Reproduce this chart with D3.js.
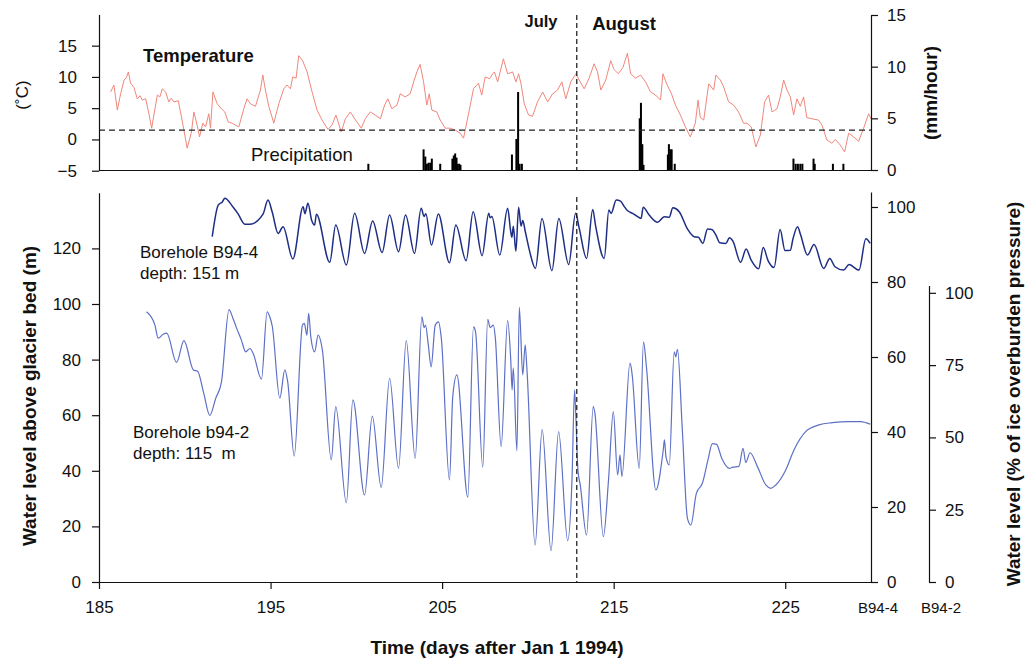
<!DOCTYPE html>
<html>
<head>
<meta charset="utf-8">
<script src="https://cdn.jsdelivr.net/npm/d3@7"></script>
<style>
body { margin: 0; background: #fff; }
text { font-family: 'Liberation Sans', Arial, sans-serif; }
</style>
</head>
<body>
<div id="chart"></div>
<script>
// ticks
const xTicks = [185, 195, 205, 215, 225]
const tempTicks = [-5, 0, 5, 10, 15]
const precipTicks = [0, 5, 10, 15]
const levelTicks = [0, 20, 40, 60, 80, 100, 120]
const pct4Ticks = [0, 20, 40, 60, 80, 100]
const pct2Ticks = [0, 25, 50, 75, 100]
const freezeLine = 1.5
const augustStart = 212.85

// air temperature, [day, degC]
const temperature = [
    [185.68, 7.6], [185.87, 8.7], [186.07, 4.7], [186.26, 7.3], [186.46, 9.5], [186.6, 9.9], [186.71, 10.8], [186.84, 9.0],
    [187.04, 8.3], [187.23, 6.5], [187.4, 7.0], [187.52, 6.3], [187.72, 6.5], [187.91, 4.1], [188.07, 1.8], [188.2, 3.9],
    [188.4, 7.1], [188.55, 6.8], [188.69, 8.1], [188.88, 7.6], [189.07, 6.0], [189.2, 6.6], [189.37, 6.0], [189.62, 6.2], [189.75, 4.4],
    [189.95, 1.5], [190.14, -1.4], [190.39, 1.2], [190.53, 4.4], [190.72, 2.3], [190.86, 0.4], [191.05, 2.6],
    [191.21, 2.0], [191.4, 4.1], [191.5, 1.8], [191.64, 7.6], [191.89, 5.7], [192.14, 4.9], [192.33, 4.4],
    [192.53, 2.8], [192.76, 2.6], [193.15, 2.0], [193.44, 4.9], [193.63, 6.5], [193.83, 5.7], [194.12, 5.3],
    [194.41, 7.9], [194.55, 10.3], [194.7, 7.9], [194.9, 5.3], [195.19, 2.6], [195.48, 5.7], [195.77, 8.1],
    [195.96, 8.7], [196.16, 8.1], [196.29, 10.0], [196.49, 9.8], [196.64, 13.4], [196.87, 12.6], [197.13, 10.8],
    [197.42, 7.6], [197.71, 4.7], [198.0, 3.1], [198.35, 1.6], [198.58, 2.3], [198.81, 3.9], [199.12, 1.2],
    [199.36, 3.3], [199.65, 4.4], [199.9, 3.3], [200.29, 1.8], [200.52, 3.3], [200.81, 4.4], [201.1, 3.9],
    [201.4, 3.3], [201.65, 5.5], [201.84, 6.5], [202.07, 4.9], [202.37, 5.5], [202.56, 7.3], [202.85, 6.8],
    [203.14, 7.3], [203.34, 9.2], [203.53, 10.8], [203.72, 12.0], [203.92, 9.2], [204.11, 5.5], [204.25, 7.3],
    [204.4, 4.7], [204.69, 4.4], [204.89, 3.1], [205.18, 1.8], [205.47, 1.8], [205.76, 1.5], [206.05, 1.0],
    [206.25, 0.2], [206.54, 4.1], [206.83, 8.1], [207.12, 9.0], [207.31, 7.1], [207.51, 10.0], [207.76, 9.7],
    [207.95, 10.5], [208.05, 10.8], [208.24, 9.2], [208.57, 12.9], [208.82, 10.5], [209.11, 10.8], [209.3, 9.2],
    [209.46, 10.5], [209.6, 8.9], [209.79, 5.7], [210.04, 3.9], [210.27, 3.7], [210.56, 6.0], [210.86, 7.6],
    [211.15, 6.0], [211.44, 7.3], [211.73, 7.9], [211.98, 9.2], [212.21, 6.5], [212.5, 9.2], [212.8, 10.5],
    [212.99, 9.5], [213.28, 8.1], [213.57, 9.8], [213.86, 12.1], [214.06, 10.8], [214.25, 7.9], [214.54, 9.5],
    [214.83, 12.6], [215.02, 11.2], [215.27, 10.5], [215.54, 11.5], [215.8, 13.8], [215.99, 10.5], [216.28, 9.8],
    [216.57, 10.3], [216.86, 9.2], [217.15, 7.6], [217.44, 7.1], [217.73, 6.3], [217.87, 10.5], [218.12, 8.7],
    [218.37, 7.3], [218.6, 5.5], [218.89, 3.9], [219.18, 2.0], [219.47, 0.4], [219.76, 2.6], [219.92, 6.3],
    [220.05, 3.5], [220.25, 3.1], [220.54, 8.9], [220.83, 7.9], [220.96, 10.3], [221.22, 9.5], [221.41, 8.4],
    [221.7, 6.0], [221.99, 5.5], [222.28, 4.4], [222.57, 2.6], [222.77, 2.6], [223.02, 2.0], [223.29, -1.2],
    [223.55, 0.7], [223.8, 6.0], [224.03, 7.1], [224.23, 4.4], [224.52, 4.9], [224.71, 6.8], [224.91, 9.5],
    [225.1, 7.9], [225.3, 6.8], [225.49, 3.9], [225.68, 6.5], [225.88, 5.3], [226.07, 6.8], [226.26, 3.5],
    [226.56, 3.3], [226.94, 3.1], [227.14, 2.3], [227.43, -0.1], [227.72, -0.6], [227.92, 0.0], [228.21, -0.9],
    [228.46, -2.0], [228.7, 1.0], [228.99, 0.4], [229.28, -0.3], [229.57, 1.8], [229.86, 4.1], [230.0, 3.3]
]

// precipitation, [day, mm/hour]
const precipitation = [
    [200.7, 0.6], [203.92, 2.0], [204.02, 1.3], [204.11, 0.6], [204.21, 0.7], [204.31, 0.7], [204.4, 1.1],
    [204.89, 0.6], [205.6, 1.1], [205.68, 1.4], [205.76, 1.6], [205.84, 1.2], [205.91, 0.6], [206.0, 0.6],
    [206.07, 0.5], [209.07, 1.5], [209.33, 3.0], [209.43, 7.55], [209.52, 0.6], [209.65, 0.6], [216.52, 5.0],
    [216.59, 6.5], [216.67, 2.5], [216.74, 0.5], [218.16, 1.5], [218.22, 2.5], [218.31, 2.0], [218.38, 2.0],
    [218.56, 0.6], [225.48, 1.1], [225.61, 0.6], [225.74, 0.6], [225.88, 0.6], [226.0, 0.6], [226.65, 1.1],
    [226.72, 0.6], [227.78, 0.6], [228.39, 0.6]
]

// borehole B94-4, [day, m above bed]
const boreholeB944 = [
    [191.6, 124.2], [191.95, 135.6], [192.2, 136.8], [192.33, 138.0], [192.8, 135.0], [193.1, 132.5], [193.5, 128.7],
    [193.8, 128.7], [194.56, 132.3], [194.85, 137.4], [195.1, 133.0], [195.44, 125.4], [195.73, 127.8], [196.3, 116.2],
    [196.9, 135.0], [197.0, 132.5], [197.18, 136.2], [197.4, 130.0], [197.57, 128.4], [197.67, 132.3], [198.45, 115.0],
    [198.8, 128.4], [199.42, 114.0], [199.9, 132.6], [200.48, 118.2], [200.95, 129.9], [201.5, 118.5], [201.94, 132.0],
    [202.46, 118.8], [202.87, 132.0], [203.39, 118.2], [203.78, 134.4], [203.95, 131.5], [204.05, 132.5], [204.38, 121.2],
    [204.78, 132.4], [205.43, 114.8], [205.8, 128.4], [206.4, 115.6], [206.81, 133.2], [207.33, 117.4], [207.72, 132.6],
    [207.8, 131.0], [207.9, 131.5], [208.36, 117.6], [208.82, 134.4], [209.0, 126.0], [209.07, 124.0], [209.15, 128.0],
    [209.3, 119.0], [209.46, 134.8], [209.6, 128.0], [209.7, 130.0], [209.85, 126.0], [210.1, 119.0], [210.44, 112.8],
    [210.82, 130.8], [211.4, 112.0], [211.8, 130.8], [212.38, 114.2], [212.78, 132.6], [213.0, 127.0], [213.42, 116.4],
    [213.78, 134.0], [213.95, 128.0], [214.45, 116.4], [214.72, 133.8], [214.85, 132.6], [215.15, 137.4], [215.4, 137.0],
    [215.6, 135.2], [215.8, 133.6], [216.1, 132.6], [216.35, 131.6], [216.6, 130.8], [216.72, 134.8], [217.07, 132.0],
    [217.56, 129.4], [217.95, 131.4], [218.24, 131.2], [218.45, 134.6], [218.82, 133.2], [219.3, 127.0], [219.69, 124.2],
    [219.94, 124.0], [220.2, 121.8], [220.47, 127.0], [220.72, 126.8], [220.96, 124.8], [221.19, 122.0], [221.54, 121.8],
    [221.75, 123.8], [221.95, 122.6], [222.4, 115.0], [222.72, 119.8], [223.0, 116.0], [223.45, 112.7], [223.72, 120.3],
    [224.0, 115.6], [224.35, 113.1], [224.7, 126.8], [224.99, 119.2], [225.3, 119.3], [225.45, 123.4], [225.72, 127.8],
    [225.9, 124.8], [226.3, 117.6], [226.68, 121.4], [227.24, 112.8], [227.6, 116.4], [227.9, 113.4], [228.4, 112.2],
    [228.72, 114.2], [229.3, 112.2], [229.7, 123.5], [229.95, 121.8]
]

// borehole b94-2, [day, m above bed]
const boreholeB942 = [
    [187.77, 97.2], [188.26, 92.4], [188.45, 87.7], [188.74, 89.1], [188.95, 89.5], [189.52, 79.0], [189.95, 86.8],
    [190.5, 76.3], [190.75, 75.8], [191.1, 68.0], [191.46, 59.9], [191.8, 66.0], [192.14, 72.0], [192.58, 98.0],
    [192.8, 95.0], [193.01, 91.5], [193.3, 87.0], [193.55, 82.8], [193.8, 84.0], [194.0, 82.0], [194.47, 73.0],
    [194.8, 97.2], [194.95, 95.5], [195.1, 92.0], [195.54, 66.1], [195.83, 76.3], [196.0, 72.0], [196.38, 45.3],
    [196.86, 92.4], [196.97, 93.0], [197.12, 88.8], [197.22, 96.6], [197.35, 88.0], [197.57, 82.8], [197.77, 88.8],
    [198.02, 83.5], [198.54, 43.9], [198.8, 63.1], [199.42, 28.5], [199.8, 65.5], [200.48, 31.3], [200.93, 59.7],
    [201.45, 34.0], [201.94, 73.3], [202.46, 40.9], [202.91, 86.8], [203.43, 44.5], [203.82, 95.4], [203.95, 91.5],
    [204.03, 92.4], [204.2, 85.0], [204.36, 77.4], [204.6, 92.4], [204.79, 93.6], [204.95, 88.0], [205.43, 36.7],
    [205.62, 66.7], [205.86, 74.5], [206.5, 30.5], [206.83, 91.8], [206.95, 90.0], [207.37, 41.3], [207.66, 94.5],
    [207.8, 91.5], [207.99, 92.4], [208.1, 88.0], [208.44, 48.7], [208.82, 94.0], [209.0, 80.0], [209.08, 69.1],
    [209.15, 77.0], [209.36, 47.2], [209.5, 98.8], [209.7, 74.5], [209.84, 85.3], [209.95, 76.0], [210.42, 13.3],
    [210.83, 54.9], [211.35, 11.3], [211.79, 54.1], [212.32, 14.9], [212.57, 36.7], [212.72, 69.1], [212.78, 62.0],
    [212.92, 40.0], [213.05, 35.0], [213.42, 16.9], [213.81, 63.1], [213.9, 61.0], [214.4, 16.3], [214.7, 36.7],
    [214.98, 61.3], [215.23, 38.5], [215.37, 45.7], [215.48, 37.9], [215.95, 78.7], [216.05, 76.0], [216.1, 73.3],
    [216.49, 40.9], [216.74, 86.4], [216.91, 77.4], [217.46, 33.1], [217.89, 47.5], [217.96, 51.1], [218.05, 45.0],
    [218.24, 42.1], [218.53, 82.8], [218.62, 81.0], [218.72, 83.7], [219.0, 55.0], [219.3, 22.9], [219.5, 20.5],
    [219.82, 31.9], [220.17, 35.5], [220.5, 44.0], [220.75, 49.8], [221.0, 49.5], [221.3, 44.5], [221.73, 40.9],
    [221.95, 41.3], [222.3, 41.6], [222.54, 48.1], [222.7, 43.0], [222.95, 46.5], [223.38, 41.5], [223.87, 34.9],
    [224.16, 33.7], [224.45, 34.9], [225.03, 40.3], [225.51, 47.5], [226.19, 54.1], [226.97, 56.5], [227.74, 57.3],
    [228.71, 57.7], [229.4, 57.7], [229.95, 56.8]
]

const width = 1031
const height = 659
const font = "'Liberation Sans', Arial, sans-serif"

const svg = d3.select('#chart').
    append('svg').
    attr('width', width).
    attr('height', height)

// scales
const x = d3.scaleLinear().domain([185, 230]).range([99, 871])
const yTemp = d3.scaleLinear().domain([-5, 20]).range([170.7, 14.4])
const yPrecip = d3.scaleLinear().domain([0, 15]).range([170, 15])
const yLevel = d3.scaleLinear().domain([0, 140]).range([582, 192.8])
const yPct4 = d3.scaleLinear().domain([0, 104]).range([582, 192])
const yPct2 = d3.scaleLinear().domain([0, 102.5]).range([582, 285.6])

function styleAxis (g, size) {
    g.attr('font-family', font).attr('font-size', size)
    g.selectAll('path, line').attr('stroke', '#111').attr('stroke-width', 1.2)
    g.selectAll('text').attr('fill', '#111')
    return g
}

// ---- top panel ----
// temperature line
svg.append('path').
    datum(temperature).
    attr('d', d3.line().x(d => x(d[0])).y(d => yTemp(d[1]))).
    attr('fill', 'none').
    attr('stroke', '#f0877c').
    attr('stroke-width', 1)

// precipitation bars
svg.selectAll('.bar').
    data(precipitation).
    enter().
    append('rect').
    attr('x', d => x(d[0]) - 1).
    attr('y', d => yPrecip(d[1])).
    attr('width', 2).
    attr('height', d => yPrecip(0) - yPrecip(d[1])).
    attr('fill', '#000')

// freezing reference
svg.append('line').
    attr('x1', x(185)).attr('x2', x(230)).
    attr('y1', yTemp(freezeLine)).attr('y2', yTemp(freezeLine)).
    attr('stroke', '#222').attr('stroke-width', 1.2).attr('stroke-dasharray', '6,4')

// left temperature axis
styleAxis(svg.append('g').
    attr('transform', `translate(${x(185)}, 0)`).
    call(d3.axisLeft(yTemp).tickValues(tempTicks).tickSize(7).tickSizeOuter(0).tickPadding(15)), 17)

// right precipitation axis
styleAxis(svg.append('g').
    attr('transform', `translate(${x(230)}, 0)`).
    call(d3.axisRight(yPrecip).tickValues(precipTicks).tickSize(7).tickSizeOuter(0).tickPadding(9)), 17)

// bottom line of top panel
svg.append('line').
    attr('x1', x(185)).attr('x2', x(230)).
    attr('y1', 170.5).attr('y2', 170.5).
    attr('stroke', '#111').attr('stroke-width', 1.2)

// ---- bottom panel ----
svg.append('path').
    datum(boreholeB942).
    attr('d', d3.line().curve(d3.curveMonotoneX).x(d => x(d[0])).y(d => yLevel(d[1]))).
    attr('fill', 'none').
    attr('stroke', '#5d70c6').
    attr('stroke-width', 1.2)

svg.append('path').
    datum(boreholeB944).
    attr('d', d3.line().curve(d3.curveMonotoneX).x(d => x(d[0])).y(d => yLevel(d[1]))).
    attr('fill', 'none').
    attr('stroke', '#1e2d85').
    attr('stroke-width', 1.5)

// x axis
styleAxis(svg.append('g').
    attr('transform', `translate(0, ${yLevel(0)})`).
    call(d3.axisBottom(x).tickValues(xTicks).tickFormat(d3.format('d')).tickSize(7).tickSizeOuter(0).tickPadding(12)), 17)

// left level axis
styleAxis(svg.append('g').
    attr('transform', `translate(${x(185)}, 0)`).
    call(d3.axisLeft(yLevel).tickValues(levelTicks).tickSize(7).tickSizeOuter(0).tickPadding(11)), 17)

// right % axes
styleAxis(svg.append('g').
    attr('transform', `translate(${x(230)}, 0)`).
    call(d3.axisRight(yPct4).tickValues(pct4Ticks).tickSize(7).tickSizeOuter(0).tickPadding(9)), 17)

styleAxis(svg.append('g').
    attr('transform', 'translate(929, 0)').
    call(d3.axisRight(yPct2).tickValues(pct2Ticks).tickSize(7).tickSizeOuter(0).tickPadding(9)), 17)

// July / August boundary
svg.append('line').
    attr('x1', x(augustStart)).attr('x2', x(augustStart)).
    attr('y1', 15).attr('y2', 171).
    attr('stroke', '#111').attr('stroke-width', 1.2).attr('stroke-dasharray', '5,3')
svg.append('line').
    attr('x1', x(augustStart)).attr('x2', x(augustStart)).
    attr('y1', 197).attr('y2', yLevel(0)).
    attr('stroke', '#111').attr('stroke-width', 1.2).attr('stroke-dasharray', '5,3')

// labels
function label (txt, px, py, size, weight, anchor, rotate) {
    const t = svg.append('text').
        text(txt).
        attr('font-family', font).
        attr('font-size', size).
        attr('font-weight', weight || 'normal').
        attr('text-anchor', anchor || 'start').
        attr('fill', '#111')
    if (rotate) t.attr('transform', `translate(${px}, ${py}) rotate(-90)`)
    else t.attr('x', px).attr('y', py)
    return t
}

label('Temperature', 143, 62, 18.5, 'bold')
label('Precipitation', 251, 161, 18.5)
label('July', 541, 27, 16.5, 'bold', 'middle')
label('August', 624, 30, 18.5, 'bold', 'middle')
label('(˚C)', 28, 95, 17, 'normal', 'middle', true)
label('(mm/hour)', 937, 93, 19, 'bold', 'middle', true)

label('Borehole B94-4', 140, 258, 17)
label('depth: 151 m', 140, 279, 17)
label('Borehole b94-2', 133, 438, 17)
label('depth: 115  m', 133, 459, 17).style('white-space', 'pre')

label('B94-4', 878, 613, 15, 'normal', 'middle')
label('B94-2', 941, 613, 15, 'normal', 'middle')

label('Water level above glacier bed (m)', 36, 396, 19, 'bold', 'middle', true)
label('Water level (% of ice overburden pressure)', 1020, 394, 19, 'bold', 'middle', true)
label('Time (days after Jan 1 1994)', 497, 654, 19, 'bold', 'middle')
</script>
</body>
</html>
